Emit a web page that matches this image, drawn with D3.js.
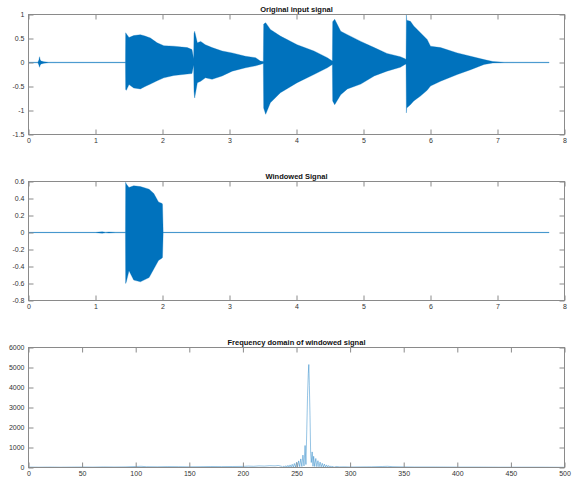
<!DOCTYPE html>
<html>
<head>
<meta charset="utf-8">
<script src="https://cdn.jsdelivr.net/npm/d3@7/dist/d3.min.js"></script>
<style>
  body { margin: 0; background: #fff; }
  svg { display: block; font-family: "Liberation Sans", Arial, Helvetica, sans-serif; }
  .tick text { fill: #333; font-size: 7px; }
  .tick line { stroke: #8a8a8a; }
  .domain { display: none; }
</style>
</head>
<body>
<svg id="chart" width="574" height="479"></svg>
<script>
// ---------- Data ----------
// Original input signal: amplitude envelope (upper / lower) vs time (s)
const origTime  = [0, 0.14, 0.155, 0.165, 0.175, 0.19, 0.23, 0.3, 1.0, 1.447,
                   1.45, 1.46, 1.5, 1.57, 1.67, 1.74, 1.82, 1.92, 2.02, 2.17, 2.37, 2.44, 2.465,
                   2.47, 2.48, 2.52, 2.57, 2.64, 2.74, 2.89, 3.04, 3.24, 3.39, 3.46, 3.505,
                   3.51, 3.54, 3.61, 3.76, 4.01, 4.26, 4.46, 4.535,
                   4.54, 4.57, 4.66, 4.76, 4.96, 5.16, 5.35, 5.55, 5.62, 5.635,
                   5.64, 5.645, 5.7, 5.75, 5.85, 5.95, 6.0, 6.15, 6.4, 6.6, 6.8, 6.93, 7.1, 7.77];
const origUpper = [0.005, 0.006, 0.05, 0.12, 0.05, 0.03, 0.015, 0.006, 0.005, 0.005,
                   0.62, 0.6, 0.52, 0.56, 0.58, 0.55, 0.51, 0.41, 0.35, 0.34, 0.31, 0.27, 0.08,
                   0.6, 0.65, 0.41, 0.44, 0.37, 0.31, 0.24, 0.2, 0.13, 0.1, 0.03, 0.02,
                   0.8, 0.83, 0.69, 0.55, 0.37, 0.24, 0.1, 0.03,
                   0.85, 0.9, 0.65, 0.58, 0.44, 0.31, 0.19, 0.12, 0.08, 0.06,
                   1.0, 0.88, 0.86, 0.76, 0.62, 0.48, 0.34, 0.31, 0.2, 0.13, 0.06, 0.02, 0.006, 0.005];
const origLower = [-0.005, -0.006, -0.05, -0.1, -0.05, -0.03, -0.015, -0.006, -0.005, -0.005,
                   -0.56, -0.58, -0.46, -0.53, -0.55, -0.5, -0.45, -0.38, -0.32, -0.27, -0.24, -0.23, -0.05,
                   -0.6, -0.74, -0.42, -0.39, -0.32, -0.35, -0.28, -0.18, -0.11, -0.07, -0.04, -0.02,
                   -0.95, -1.08, -0.84, -0.63, -0.42, -0.25, -0.11, -0.04,
                   -0.8, -0.88, -0.67, -0.55, -0.45, -0.28, -0.18, -0.1, -0.04, -0.03,
                   -1.05, -0.95, -0.88, -0.8, -0.7, -0.58, -0.49, -0.39, -0.25, -0.15, -0.04, -0.01, -0.006, -0.005];

// Windowed signal: amplitude envelope vs time (s)
const winTime  = [0, 1.0, 1.05, 1.1, 1.15, 1.2, 1.3, 1.447, 1.45, 1.46, 1.5, 1.57, 1.67, 1.8, 1.87, 1.94, 1.995, 2.0, 2.01, 7.77];
const winUpper = [0.002, 0.002, 0.005, 0.008, 0.004, 0.006, 0.003, 0.003, 0.59, 0.57, 0.53, 0.55, 0.54, 0.51, 0.46, 0.36, 0.34, 0.33, 0.002, 0.002];
const winLower = [-0.002, -0.002, -0.005, -0.008, -0.004, -0.006, -0.003, -0.003, -0.6, -0.58, -0.45, -0.56, -0.58, -0.53, -0.43, -0.33, -0.3, -0.29, -0.002, -0.002];

// Frequency domain of windowed signal: magnitude vs frequency (Hz)
const specFreq = [0, 10, 20, 30, 40, 50, 60, 70, 80, 90,
                  100, 105, 110, 120, 130, 140, 150, 160, 170, 180,
                  190, 200, 205, 210, 215, 220, 225, 230, 233, 236,
                  237, 238, 239, 240, 241, 242, 243, 244, 245, 246,
                  247, 248, 249, 250, 251, 252, 253, 254, 255, 256,
                  257, 258, 258.8, 259.6, 260.3, 261, 261.5, 262, 262.6, 263.2,
                  263.8, 264.6, 265.4, 266, 267, 268, 269, 270, 271, 272,
                  273, 274, 275, 276, 277, 278, 279, 280, 281, 282,
                  283, 284, 285, 287, 290, 295, 300, 310, 320, 330,
                  335, 340, 350, 360, 380, 400, 420, 440, 460, 480,
                  500];
const specMag  = [20, 15, 20, 15, 20, 25, 20, 30, 25, 30,
                  50, 60, 40, 35, 45, 40, 35, 40, 50, 45,
                  50, 55, 70, 60, 80, 70, 90, 80, 100, 60,
                  10, 80, 10, 90, 15, 110, 15, 130, 20, 160,
                  20, 200, 25, 260, 30, 330, 40, 430, 50, 620,
                  80, 1100, 150, 1900, 3600, 4700, 5150, 4100, 2600, 700,
                  250, 780, 60, 560, 50, 450, 40, 340, 35, 270,
                  30, 210, 25, 170, 20, 130, 20, 100, 15, 80,
                  15, 65, 10, 50, 30, 35, 25, 30, 35, 50,
                  60, 40, 30, 25, 25, 20, 20, 15, 15, 15,
                  10];

// Titles and tick values
const titles = ["Original input signal", "Windowed Signal", "Frequency domain of windowed signal"];
const timeTicks = [0, 1, 2, 3, 4, 5, 6, 7, 8];
const origYTicks = [-1.5, -1, -0.5, 0, 0.5, 1];
const winYTicks = [-0.8, -0.6, -0.4, -0.2, 0, 0.2, 0.4, 0.6];
const freqTicks = [0, 50, 100, 150, 200, 250, 300, 350, 400, 450, 500];
const magTicks = [0, 1000, 2000, 3000, 4000, 5000, 6000];

// ---------- Drawing ----------
const svg = d3.select("#chart");
const color = "#0072BD";
const left = 28.5, right = 564.5;
const panels = [
  { top: 14.5, bottom: 134.5, xDomain: [0, 8], yDomain: [-1.5, 1], xTicks: timeTicks, yTicks: origYTicks, title: titles[0] },
  { top: 181.5, bottom: 300.5, xDomain: [0, 8], yDomain: [-0.8, 0.6], xTicks: timeTicks, yTicks: winYTicks, title: titles[1] },
  { top: 347.5, bottom: 467.5, xDomain: [0, 500], yDomain: [0, 6000], xTicks: freqTicks, yTicks: magTicks, title: titles[2] }
];

function fmt(v) { return String(v); }

panels.forEach((p, i) => {
  const x = d3.scaleLinear().domain(p.xDomain).range([left, right]);
  const y = d3.scaleLinear().domain(p.yDomain).range([p.bottom, p.top]);
  const g = svg.append("g");

  const clipId = "clip" + i;
  svg.append("clipPath").attr("id", clipId).append("rect")
    .attr("x", left).attr("y", p.top).attr("width", right - left).attr("height", p.bottom - p.top);
  const dg = g.append("g").attr("clip-path", `url(#${clipId})`);

  if (i === 0 || i === 1) {
    const T = i === 0 ? origTime : winTime;
    const U = i === 0 ? origUpper : winUpper;
    const L = i === 0 ? origLower : winLower;
    const idx = d3.range(T.length);
    const area = d3.area().x(k => x(T[k])).y0(k => y(L[k])).y1(k => y(U[k]));
    dg.append("path").attr("d", area(idx))
      .attr("fill", color).attr("stroke", color).attr("stroke-width", 0.5).attr("stroke-opacity", 0.6);
  } else {
    const idx = d3.range(specFreq.length);
    const line = d3.line().x(k => x(specFreq[k])).y(k => y(specMag[k]));
    dg.append("path").attr("d", line(idx))
      .attr("fill", "none").attr("stroke", color).attr("stroke-width", 0.6).attr("stroke-opacity", 0.7);
  }

  const tl = 5;
  g.append("g").attr("transform", `translate(0,${p.bottom})`)
    .call(d3.axisBottom(x).tickValues(p.xTicks).tickFormat(fmt).tickSizeInner(-tl).tickSizeOuter(0).tickPadding(4));
  g.append("g").attr("transform", `translate(0,${p.top})`)
    .call(d3.axisTop(x).tickValues(p.xTicks).tickFormat("").tickSizeInner(-tl).tickSizeOuter(0));
  g.append("g").attr("transform", `translate(${left},0)`)
    .call(d3.axisLeft(y).tickValues(p.yTicks).tickFormat(fmt).tickSizeInner(-tl).tickSizeOuter(0).tickPadding(4));
  g.append("g").attr("transform", `translate(${right},0)`)
    .call(d3.axisRight(y).tickValues(p.yTicks).tickFormat("").tickSizeInner(-tl).tickSizeOuter(0));

  g.append("rect").attr("x", left).attr("y", p.top)
    .attr("width", right - left).attr("height", p.bottom - p.top)
    .attr("fill", "none").attr("stroke", "#8a8a8a").attr("stroke-width", 1);

  g.append("text").attr("x", (left + right) / 2).attr("y", p.top - 3)
    .attr("text-anchor", "middle").attr("font-size", 7.5).attr("font-weight", "bold")
    .attr("fill", "#111").text(p.title);
});
</script>
</body>
</html>
